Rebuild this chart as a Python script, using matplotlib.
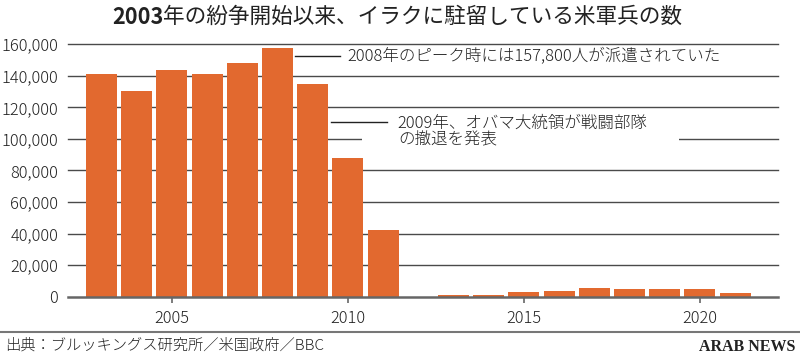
"""
Recreate: US troops in Iraq since 2003 (Japanese bar chart, Arab News)
"""
import matplotlib
matplotlib.use('Agg')
import matplotlib.pyplot as plt
from matplotlib.patches import Rectangle

plt.rcParams['font.family'] = ['Noto Sans CJK JP', 'DejaVu Sans']

# ---- data ----
years = [2003, 2004, 2005, 2006, 2007, 2008, 2009, 2010, 2011, 2012,
         2013, 2014, 2015, 2016, 2017, 2018, 2019, 2020, 2021]
troops = [141000, 130000, 143800, 141000, 148000, 157800, 135000, 88000, 42500, 0,
          1000, 800, 3200, 3900, 5300, 5000, 5000, 5000, 2500]
yticks = [0, 20000, 40000, 60000, 80000, 100000, 120000, 140000, 160000]
xticks = [2005, 2010, 2015, 2020]

title_bold = '2003'
title_rest = '年の紛争開始以来、イラクに駐留している米軍兵の数'
note_2008 = '2008年のピーク時には157,800人が派遣されていた'
note_2009 = '2009年、オバマ大統領が戦闘部隊\nの撤退を発表'
source = '出典：ブルッキングス研究所／米国政府／BBC'
brand = 'ARAB NEWS'

bar_color = '#E2692F'
grid_color = '#4a4a4a'
text_color = '#222222'
lw_text = 'light'

fig = plt.figure(figsize=(8, 3.58), dpi=100)
ax = fig.add_axes([0.085, 0.1712, 0.8875, 0.7058])

# gridlines behind bars
for v in yticks[1:]:
    ax.axhline(v, color=grid_color, lw=1.0, zorder=0, clip_on=False)
ax.axhline(0, color='#666666', lw=1.8, zorder=3, clip_on=False)

ax.bar(years, troops, width=0.88, color=bar_color, zorder=2)

ax.set_xlim(2002.05, 2022.22)
ax.set_ylim(0, 160000)
for s in ax.spines.values():
    s.set_visible(False)

ax.set_yticks(yticks)
ax.set_yticklabels([f'{v:,}' for v in yticks], fontweight=lw_text)
ax.set_xticks(xticks)
ax.set_xticklabels([str(x) for x in xticks], fontweight=lw_text)
ax.tick_params(axis='y', length=0, pad=7, labelsize=11.8, labelcolor=text_color)
ax.tick_params(axis='x', length=4.5, width=1.2, color='#666666', pad=5,
               labelsize=11.8, labelcolor=text_color)

# annotation: 2008 peak
ax.plot([2008.49, 2009.77], [152400, 152400], color='#222222', lw=1.0, zorder=4)
ax.text(2009.99, 152400, note_2008, va='center', ha='left', fontsize=11.9,
        fontweight=lw_text, color=text_color, zorder=5)

# annotation: 2009 withdrawal announcement (white box interrupts gridline)
ax.add_patch(Rectangle((2010.40, 93000), 9.0, 24000, facecolor='white',
                       edgecolor='none', zorder=3))
ax.plot([2009.52, 2011.11], [110600, 110600], color='#222222', lw=1.0, zorder=4)
ax.text(2011.42, 104500, note_2009, va='center', ha='left', fontsize=11.9,
        fontweight=lw_text, color=text_color, linespacing=0.95, zorder=5)

# title: bold year + regular rest
t1 = fig.text(0.14, 0.952, title_bold, fontsize=15.6, fontweight='bold',
              va='center', ha='left', color=text_color)
fig.canvas.draw()
bb = t1.get_window_extent()
fig.text(bb.x1 / 800, 0.952, title_rest, fontsize=15.6, va='center', ha='left',
         color=text_color)

# footer
fig.add_artist(plt.Line2D([0, 1], [0.073, 0.073], color='#777777', lw=1.5,
                          transform=fig.transFigure))
fig.text(0.006, 0.036, source, fontsize=11, fontweight=lw_text, va='center',
         ha='left', color=text_color)
fig.text(0.994, 0.03, brand, fontsize=11.5, va='center', ha='right',
         family='Liberation Serif', fontweight='bold', color='#222222')

fig.savefig('out.png', dpi=100)
